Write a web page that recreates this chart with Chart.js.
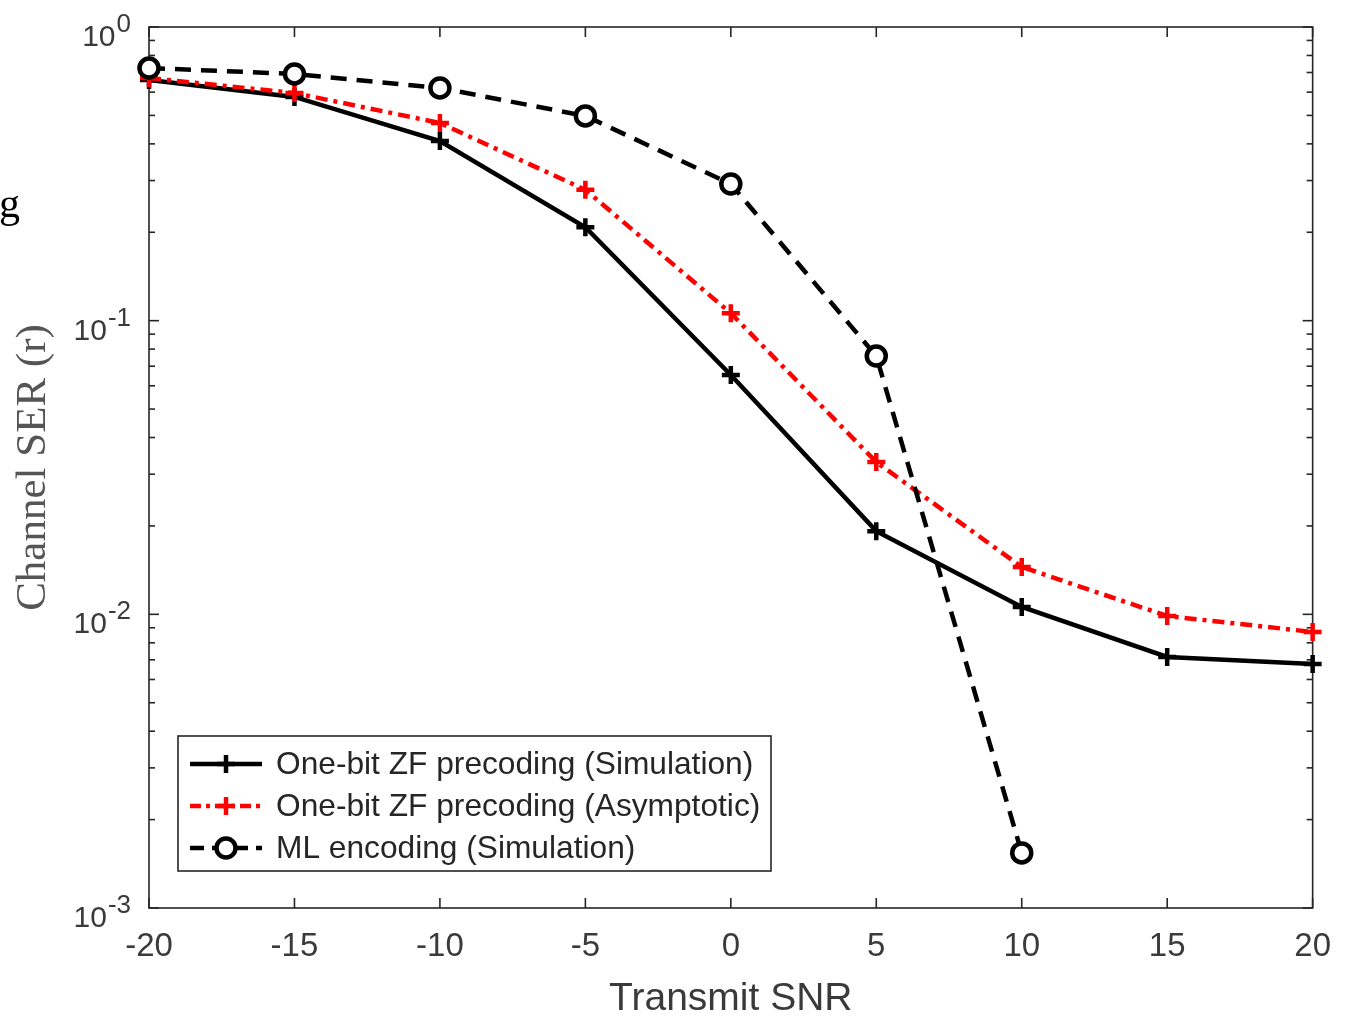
<!DOCTYPE html>
<html>
<head>
<meta charset="utf-8">
<script src="https://cdn.jsdelivr.net/npm/chart.js@4.4.0/dist/chart.umd.min.js"></script>
<style>
  body { margin: 0; background: #fff; }
  #wrap { width: 1350px; height: 1021px; }
</style>
</head>
<body>
<div id="wrap"><canvas id="serChart" width="1350" height="1021"></canvas></div>
<script>
// data
var snr = [-20, -15, -10, -5, 0, 5, 10, 15, 20];
var zfSim = [0.66, 0.578, 0.409, 0.208, 0.0653, 0.0192, 0.0106, 0.00716, 0.00678];
var zfAsym = [0.67, 0.596, 0.471, 0.279, 0.106, 0.033, 0.0145, 0.00987, 0.00871];
var mlSnr = [-20, -15, -10, -5, 0, 5, 10];
var mlSim = [0.725, 0.692, 0.62, 0.498, 0.292, 0.0758, 0.00154];
var xTicks = [-20, -15, -10, -5, 0, 5, 10, 15, 20];
var yDecades = [0, -1, -2, -3];
var legendLabels = ['One-bit ZF precoding (Simulation)', 'One-bit ZF precoding (Asymptotic)', 'ML encoding (Simulation)'];

var sans = "'Liberation Sans', Arial, sans-serif";
var serif = "'Liberation Serif', 'Times New Roman', serif";
var axisColor = '#262626';

function pts(xs, ys) {
    return xs.map((v, i) => ({x: v, y: ys[i]}));
}

function seg(ctx, x1, y1, x2, y2) {
    ctx.beginPath();
    ctx.moveTo(x1, y1);
    ctx.lineTo(x2, y2);
    ctx.stroke();
}

// box, inward ticks, exponent labels and the legend (MATLAB look)
var matlabAxes = {
    id: 'matlabAxes',
    beforeDatasetsDraw(chart) {
        const ctx = chart.ctx;
        const a = chart.chartArea;
        const x = chart.scales.x, y = chart.scales.y;
        ctx.save();
        ctx.strokeStyle = axisColor;
        ctx.lineWidth = 1.6;
        ctx.strokeRect(a.left, a.top, a.right - a.left, a.bottom - a.top);

        xTicks.forEach(v => {
            const px = x.getPixelForValue(v);
            seg(ctx, px, a.bottom, px, a.bottom - 10);
            seg(ctx, px, a.top, px, a.top + 10);
        });

        yDecades.forEach(e => {
            const py = y.getPixelForValue(Math.pow(10, e));
            seg(ctx, a.left, py, a.left + 10, py);
            seg(ctx, a.right, py, a.right - 10, py);
            if (e < 0) {
                for (let k = 2; k <= 9; k++) {
                    const pm = y.getPixelForValue(k * Math.pow(10, e));
                    seg(ctx, a.left, pm, a.left + 6, pm);
                    seg(ctx, a.right, pm, a.right - 6, pm);
                }
            }
        });

        // y tick labels 10^e
        ctx.fillStyle = '#3a3a3a';
        ctx.textBaseline = 'alphabetic';
        ctx.textAlign = 'right';
        yDecades.forEach(e => {
            const py = y.getPixelForValue(Math.pow(10, e));
            const sup = String(e);
            ctx.font = '26px ' + sans;
            const w = ctx.measureText(sup).width;
            ctx.fillText(sup, 131, py + 5);
            ctx.font = '30px ' + sans;
            ctx.fillText('10', 131 - w - 1, py + 19);
        });

        // stray glyph at left edge of the figure
        ctx.fillStyle = '#000';
        ctx.textAlign = 'left';
        ctx.font = '42px ' + serif;
        ctx.fillText('g', -1, 217);
        ctx.restore();
    },
    afterDatasetsDraw(chart) {
        const ctx = chart.ctx;
        const box = {left: 178, top: 736, right: 771, bottom: 871};
        ctx.save();
        ctx.fillStyle = '#fff';
        ctx.fillRect(box.left, box.top, box.right - box.left, box.bottom - box.top);
        ctx.strokeStyle = axisColor;
        ctx.lineWidth = 1.6;
        ctx.strokeRect(box.left, box.top, box.right - box.left, box.bottom - box.top);

        chart.data.datasets.forEach((ds, i) => {
            const cy = 764 + i * 42;
            ctx.strokeStyle = ds.borderColor;
            ctx.lineWidth = ds.borderWidth;
            ctx.setLineDash(ds.legendDash);
            seg(ctx, 190, cy, 262, cy);
            ctx.setLineDash([]);
            ctx.lineWidth = ds.pointBorderWidth;
            if (ds.pointStyle === 'circle') {
                ctx.fillStyle = '#fff';
                ctx.beginPath();
                ctx.arc(226, cy, ds.pointRadius, 0, Math.PI * 2);
                ctx.fill();
                ctx.stroke();
            } else {
                seg(ctx, 226 - ds.pointRadius, cy, 226 + ds.pointRadius, cy);
                seg(ctx, 226, cy - ds.pointRadius, 226, cy + ds.pointRadius);
            }
            ctx.fillStyle = '#262626';
            ctx.font = '31.7px ' + sans;
            ctx.textBaseline = 'middle';
            ctx.textAlign = 'left';
            ctx.fillText(legendLabels[i], 276, cy + 1);
        });
        ctx.restore();
    }
};

var ctx = document.getElementById('serChart').getContext('2d');

var serChart = new Chart(ctx, {
    type: 'line',
    data: {
        datasets: [{
            label: legendLabels[0],
            data: pts(snr, zfSim),
            borderColor: '#000',
            borderWidth: 4.5,
            legendDash: [],
            pointStyle: 'cross',
            pointRadius: 9,
            pointBorderWidth: 4.5,
            pointBorderColor: '#000',
            order: 2
        }, {
            label: legendLabels[1],
            data: pts(snr, zfAsym),
            borderColor: '#ff0000',
            borderWidth: 4.5,
            borderDash: [12, 6, 4, 6],
            legendDash: [11, 5, 4, 5],
            pointStyle: 'cross',
            pointRadius: 9,
            pointBorderWidth: 4.5,
            pointBorderColor: '#ff0000',
            order: 1
        }, {
            label: legendLabels[2],
            data: pts(mlSnr, mlSim),
            borderColor: '#000',
            borderWidth: 4.5,
            borderDash: [16, 10],
            legendDash: [14, 8],
            pointStyle: 'circle',
            pointRadius: 9.5,
            pointBorderWidth: 4.5,
            pointBorderColor: '#000',
            pointBackgroundColor: '#fff',
            order: 0
        }]
    },
    options: {
        responsive: false,
        animation: false,
        clip: false,
        layout: {
            padding: {top: 27, right: 37, left: 0, bottom: 0}
        },
        elements: {
            line: {tension: 0, fill: false, borderCapStyle: 'butt'}
        },
        plugins: {
            legend: {display: false},
            tooltip: {enabled: false}
        },
        scales: {
            x: {
                type: 'linear',
                min: -20,
                max: 20,
                grid: {display: false, drawTicks: false},
                border: {display: false},
                ticks: {
                    stepSize: 5,
                    padding: 19,
                    color: '#3a3a3a',
                    font: {family: sans, size: 33},
                    maxRotation: 0
                },
                title: {
                    display: true,
                    text: 'Transmit SNR',
                    color: '#3a3a3a',
                    font: {family: sans, size: 39, lineHeight: 1},
                    padding: {top: 0, bottom: 2}
                },
                afterFit(scale) { scale.height = 113; }
            },
            y: {
                type: 'logarithmic',
                min: 0.001,
                max: 1,
                grid: {display: false, drawTicks: false},
                border: {display: false},
                ticks: {display: false},
                title: {
                    display: true,
                    text: 'Channel SER (r)',
                    color: '#555',
                    font: {family: serif, size: 43, lineHeight: 1},
                    padding: {top: 12, bottom: 0}
                },
                afterFit(scale) { scale.width = 149; }
            }
        }
    },
    plugins: [matlabAxes]
});
</script>
</body>
</html>
